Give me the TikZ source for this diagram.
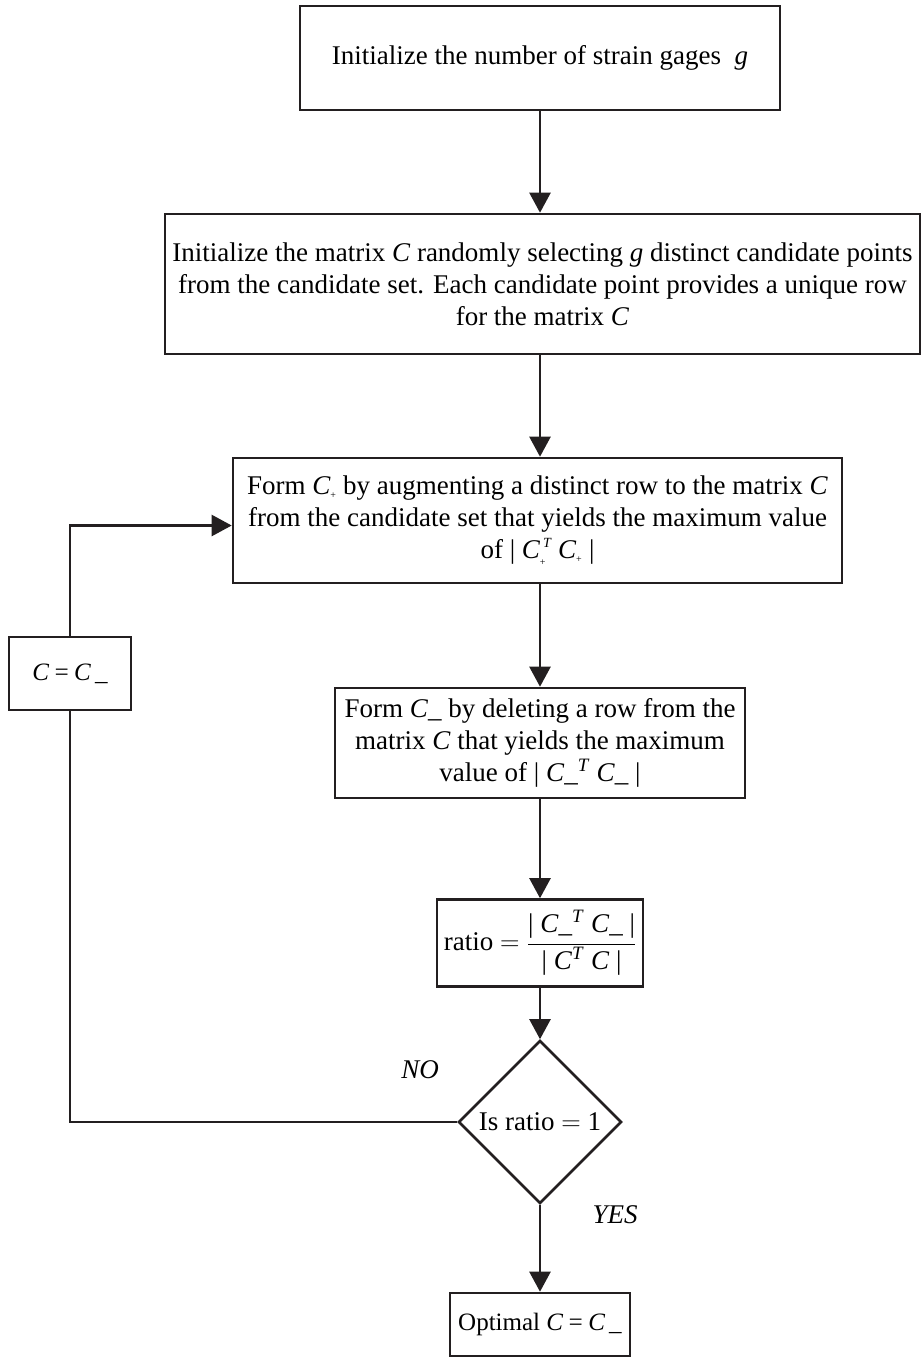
\RequirePackage{fix-cm}
\documentclass[tikz,border=0pt]{standalone}
\usepackage{amsmath}
\usepackage{fontspec}
\setmainfont{Liberation Serif}
\usetikzlibrary{arrows.meta,shapes.geometric}

\definecolor{ink}{HTML}{231F20}

% matrix symbols
\newcommand{\Cmat}{\textit{C}}
\newcommand{\Cminus}{\textit{C}\_}
\newcommand{\plussub}{{\fontsize{10}{10}\selectfont +}}
\newcommand{\Cplus}{\ensuremath{\textit{C}_{\text{\plussub}}}}
\newcommand{\CplusT}{\ensuremath{\textit{C}_{\text{\plussub}}^{\,\text{\fontsize{14}{14}\selectfont\itshape T}}}}
\newcommand{\supT}{\textsuperscript{\textit{T}}}
\newcommand{\assign}{\textit{C\,=\,C\,\_}}

\begin{document}
\begin{tikzpicture}[x=1pt,y=-1pt,
  font=\fontsize{27}{32}\selectfont,
  box/.style={draw=ink,line width=2.6pt,fill=white,align=center,inner sep=0pt},
  flow/.style={draw=ink,line width=2.4pt,-{Triangle[length=20pt,width=21pt]}},
  link/.style={draw=ink,line width=2.4pt},
  tag/.style={font=\fontsize{27}{32}\selectfont\itshape,inner sep=0pt}]

\useasboundingbox (0,0) rectangle (924,1366);

\node[box,minimum width=480,minimum height=104] (init) at (540,58)
  {Initialize the number of strain gages\ \ \textit{g}};

\node[box,minimum width=755,minimum height=140] (matrix) at (542.5,284)
  {Initialize the matrix \Cmat{} randomly selecting \textit{g} distinct candidate points\\
   from the candidate set. Each candidate point provides a unique row\\
   for the matrix \Cmat};

\node[box,minimum width=609,minimum height=125] (augment) at (537.5,520.5)
  {Form \Cplus{} by augmenting a distinct row to the matrix \Cmat\\
   from the candidate set that yields the maximum value\\
   of | \CplusT{} \Cplus{} |};

\node[box,minimum width=410,minimum height=110] (delete) at (540,743)
  {Form \Cminus{} by deleting a row from the\\
   matrix \Cmat{} that yields the maximum\\
   value of | \Cminus\supT{} \Cminus{} |};

\node[box,minimum width=206,minimum height=87] (ratio) at (540,943)
  {ratio $=\dfrac{\text{| \Cminus\supT{} \Cminus{} |}}{\text{| \Cmat\supT{} \Cmat{} |}}$};

\node[draw=ink,line width=2.6pt,diamond,aspect=1,minimum width=163,minimum height=163,inner sep=0pt] (check) at (540,1122)
  {Is ratio $=$ 1};

\node[box,minimum width=180,minimum height=63] (optimal) at (540,1324.5)
  {\fontsize{25}{30}\selectfont Optimal \assign};

\node[box,minimum width=122,minimum height=73] (update) at (70,673.5)
  {\fontsize{25}{30}\selectfont\assign};

\node[tag] (no) at (420,1070) {NO};
\node[tag] (yes) at (615,1215) {YES};

\draw[flow] (init.south) -- (matrix.north -| init.south);
\draw[flow] (matrix.south -| init.south) -- (augment.north -| init.south);
\draw[flow] (augment.south -| init.south) -- (delete.north);
\draw[flow] (delete.south) -- (ratio.north);
\draw[flow] (ratio.south) -- (check.north);
\draw[flow] (check.south) -- (optimal.north);
\draw[link] (check.west) -| (update.south);
\draw[flow] (update.north) |- ([yshift=-5pt]augment.west);
\end{tikzpicture}
\end{document}
